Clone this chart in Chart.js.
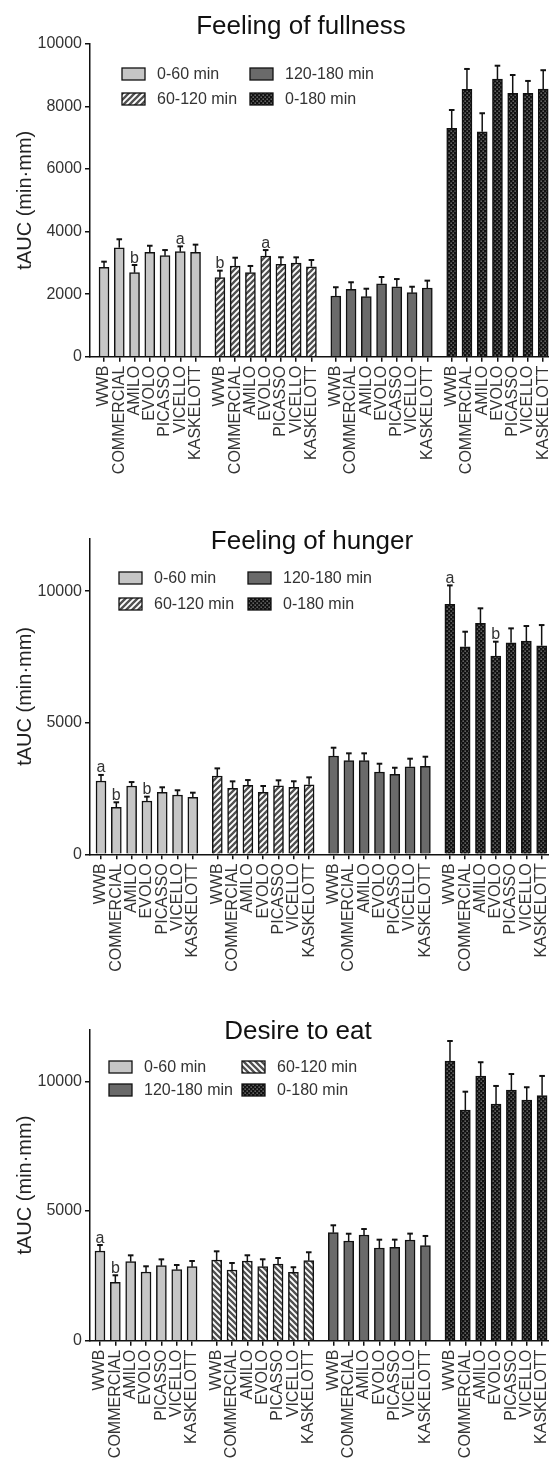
<!DOCTYPE html>
<html>
<head>
<meta charset="utf-8">
<script src="https://cdn.jsdelivr.net/npm/chart.js@4.4.1/dist/chart.umd.min.js"></script>
<style>
body { margin: 0; background: #fff; }
#wrap { position: relative; width: 549px; height: 1469px; }
canvas { position: absolute; left: 0; }
</style>
</head>
<body>
<div id="wrap">
  <canvas id="fullness" width="549" height="490" style="top:0"></canvas>
  <canvas id="hunger" width="549" height="490" style="top:490px"></canvas>
  <canvas id="desire" width="549" height="489" style="top:980px"></canvas>
</div>
<script>
const products = ['WWB', 'COMMERCIAL', 'AMILO', 'EVOLO', 'PICASSO', 'VICELLO', 'KASKELOTT'];
const periods = ['0-60 min', '60-120 min', '120-180 min', '0-180 min'];
const fullnessTicks = [0, 2000, 4000, 6000, 8000, 10000];
const hungerTicks = [0, 5000, 10000];
const desireTicks = [0, 5000, 10000];

// Feeling of fullness
const full_0_60 = [2856, 3482, 2684, 3335, 3227, 3355, 3335];
const full_0_60_sem = [180, 270, 245, 210, 180, 170, 245];
const full_0_60_sig = ['', '', 'b', '', '', 'a', ''];
const full_60_120 = [2524, 2898, 2684, 3217, 2952, 2994, 2875];
const full_60_120_sem = [225, 265, 215, 190, 225, 180, 215];
const full_60_120_sig = ['b', '', '', 'a', '', '', ''];
const full_120_180 = [1939, 2153, 1917, 2332, 2236, 2045, 2195];
const full_120_180_sem = [280, 225, 255, 215, 245, 190, 235];
const full_0_180 = [7297, 8543, 7188, 8872, 8415, 8415, 8553];
const full_0_180_sem = [585, 650, 590, 425, 585, 395, 600];

// Feeling of hunger
const hung_0_60 = [2785, 1786, 2595, 2025, 2356, 2253, 2166];
const hung_0_60_sem = [230, 190, 150, 165, 190, 180, 175];
const hung_0_60_sig = ['a', 'b', '', 'b', '', '', ''];
const hung_60_120 = [2975, 2507, 2621, 2356, 2606, 2545, 2644];
const hung_60_120_sem = [290, 265, 200, 240, 205, 230, 280];
const hung_120_180 = [3735, 3557, 3557, 3127, 3039, 3328, 3343];
const hung_120_180_sem = [315, 280, 280, 315, 250, 305, 365];
const hung_0_180 = [9498, 7888, 8777, 7534, 8040, 8104, 7926];
const hung_0_180_sem = [720, 570, 570, 545, 545, 570, 785];
const hung_0_180_sig = ['a', '', '', 'b', '', '', ''];

// Desire to eat
const des_0_60 = [3459, 2252, 3047, 2649, 2892, 2738, 2854];
const des_0_60_sem = [230, 270, 245, 220, 245, 180, 220];
const des_0_60_sig = ['a', 'b', '', '', '', '', ''];
const des_60_120 = [3112, 2727, 3074, 2854, 2958, 2638, 3085];
const des_60_120_sem = [335, 270, 220, 285, 230, 195, 325];
const des_120_180 = [4165, 3845, 4076, 3575, 3602, 3884, 3664];
const des_120_180_sem = [285, 280, 230, 320, 295, 245, 375];
const des_0_180 = [10787, 8897, 10208, 9128, 9668, 9283, 9449];
const des_0_180_sem = [770, 705, 530, 695, 615, 490, 760];

const FONT = '"Liberation Sans", Arial, Helvetica, sans-serif';
const groupStep = 7.6; // 7 bars + gap

// fill patterns
function stripes(back) {
  const s = 6;
  const c = document.createElement('canvas');
  c.width = c.height = s;
  const g = c.getContext('2d');
  g.fillStyle = '#fff';
  g.fillRect(0, 0, s, s);
  g.strokeStyle = '#505050';
  g.lineWidth = 2.3;
  g.beginPath();
  if (back) { // "\"
    g.moveTo(0, 0); g.lineTo(s, s);
    g.moveTo(-s / 2, s / 2); g.lineTo(s / 2, s * 1.5);
    g.moveTo(s / 2, -s / 2); g.lineTo(s * 1.5, s / 2);
  } else { // "/"
    g.moveTo(0, s); g.lineTo(s, 0);
    g.moveTo(-s / 2, s / 2); g.lineTo(s / 2, -s / 2);
    g.moveTo(s / 2, s * 1.5); g.lineTo(s * 1.5, s / 2);
  }
  g.stroke();
  return g.createPattern(c, 'repeat');
}

function dots() {
  const c = document.createElement('canvas');
  c.width = c.height = 4;
  const g = c.getContext('2d');
  g.fillStyle = '#111';
  g.fillRect(0, 0, 4, 4);
  g.fillStyle = '#8c8c8c';
  g.fillRect(0.5, 0.5, 1.3, 1.3);
  g.fillRect(2.5, 2.5, 1.3, 1.3);
  return g.createPattern(c, 'repeat');
}

const annotate = {
  id: 'annotate',
  afterDatasetsDraw(chart) {
    const ctx = chart.ctx;
    const y = chart.scales.y;
    ctx.save();
    chart.data.datasets.forEach((ds, k) => {
      chart.getDatasetMeta(k).data.forEach((bar, i) => {
        const top = y.getPixelForValue(ds.data[i].y + ds.sem[i]);
        ctx.strokeStyle = '#111';
        ctx.lineWidth = 1.5;
        ctx.beginPath();
        ctx.moveTo(bar.x, bar.y);
        ctx.lineTo(bar.x, top);
        ctx.stroke();
        ctx.lineWidth = 2;
        ctx.beginPath();
        ctx.moveTo(bar.x - 2.8, top);
        ctx.lineTo(bar.x + 2.8, top);
        ctx.stroke();
        if (ds.sig && ds.sig[i]) {
          ctx.fillStyle = '#333';
          ctx.font = '16px ' + FONT;
          ctx.textAlign = 'center';
          ctx.textBaseline = 'alphabetic';
          ctx.fillText(ds.sig[i], bar.x, top - 2.5);
        }
      });
    });
    ctx.restore();
  },
  afterDraw(chart, args, o) {
    const ctx = chart.ctx;
    ctx.save();
    // title
    ctx.fillStyle = '#111';
    ctx.font = '26px ' + FONT;
    ctx.textAlign = 'center';
    ctx.textBaseline = 'alphabetic';
    ctx.fillText(o.title, o.titleX, o.titleY);
    // legend, 2 x 2
    ctx.font = '16px ' + FONT;
    ctx.textAlign = 'left';
    ctx.textBaseline = 'middle';
    o.rows.forEach((row, r) => {
      row.forEach((idx, c) => {
        const ds = chart.data.datasets[idx];
        const bx = o.legX[c], by = o.legY[r];
        ctx.fillStyle = ds.backgroundColor;
        ctx.fillRect(bx, by - 6, 23, 12);
        ctx.strokeStyle = '#111';
        ctx.lineWidth = 1.3;
        ctx.strokeRect(bx, by - 6, 23, 12);
        ctx.fillStyle = '#333';
        ctx.fillText(ds.label, bx + 35, by + 1);
      });
    });
    ctx.restore();
  }
};

function makePanel(id, p) {
  const ctx = document.getElementById(id).getContext('2d');
  const fills = ['#c6c6c6', stripes(p.backStripes), '#6a6a6a', dots()];
  const tickPos = [];
  for (let k = 0; k < 4; k++) for (let i = 0; i < products.length; i++) tickPos.push(k * groupStep + i);

  const datasets = p.series.map((s, k) => ({
    label: periods[k],
    data: s.mean.map((v, i) => ({ x: k * groupStep + i, y: v })),
    sem: s.sem,
    sig: s.sig,
    backgroundColor: fills[k],
    borderColor: '#111',
    borderWidth: 1.5,
    barThickness: 10,
    grouped: false
  }));

  return new Chart(ctx, {
    type: 'bar',
    data: { datasets: datasets },
    plugins: [annotate],
    options: {
      responsive: false,
      animation: false,
      layout: { padding: { top: p.top, left: 0, right: 0, bottom: 0 } },
      plugins: {
        legend: { display: false },
        tooltip: { enabled: false },
        annotate: p.annot
      },
      scales: {
        x: {
          type: 'linear',
          min: p.xMin,
          max: p.xMax,
          offset: false,
          afterBuildTicks: s => { s.ticks = tickPos.map(v => ({ value: v })); },
          afterFit: s => { s.height = p.xAxisH; s.paddingLeft = 0; s.paddingRight = 0; },
          ticks: {
            autoSkip: false,
            minRotation: 90,
            maxRotation: 90,
            padding: 4,
            color: '#333',
            font: { family: FONT, size: 16 },
            callback: (v, i) => products[i % products.length]
          },
          grid: { drawOnChartArea: false, offset: false, tickLength: 5, color: '#111', lineWidth: 1.5 },
          border: { color: '#111', width: 1.5 }
        },
        y: {
          min: 0,
          max: p.yMax,
          ticks: {
            padding: 3,
            color: '#333',
            font: { family: FONT, size: 16 },
            callback: v => String(v)
          },
          afterBuildTicks: s => { s.ticks = p.yTicks.map(v => ({ value: v })); },
          afterFit: s => { s.width = 90; },
          title: {
            display: true,
            text: 'tAUC (min·mm)',
            color: '#222',
            font: { family: FONT, size: 20 },
            padding: { top: 13, bottom: 0 }
          },
          grid: { drawOnChartArea: false, tickLength: 5, color: '#111', lineWidth: 1.5 },
          border: { color: '#111', width: 1.5 }
        }
      }
    }
  });
}

makePanel('fullness', {
  top: 43.7, xAxisH: 133.3, xMin: -0.92, xMax: 29.18, yMax: 10000, yTicks: fullnessTicks,
  backStripes: false,
  series: [
    { mean: full_0_60, sem: full_0_60_sem, sig: full_0_60_sig },
    { mean: full_60_120, sem: full_60_120_sem, sig: full_60_120_sig },
    { mean: full_120_180, sem: full_120_180_sem },
    { mean: full_0_180, sem: full_0_180_sem }
  ],
  annot: { title: 'Feeling of fullness', titleX: 301, titleY: 34,
           legX: [122, 250], legY: [74, 99], rows: [[0, 2], [1, 3]] }
});

makePanel('hunger', {
  top: 48.5, xAxisH: 125.7, xMin: -0.72, xMax: 29.28, yMax: 12000, yTicks: hungerTicks,
  backStripes: false,
  series: [
    { mean: hung_0_60, sem: hung_0_60_sem, sig: hung_0_60_sig },
    { mean: hung_60_120, sem: hung_60_120_sem },
    { mean: hung_120_180, sem: hung_120_180_sem },
    { mean: hung_0_180, sem: hung_0_180_sem, sig: hung_0_180_sig }
  ],
  annot: { title: 'Feeling of hunger', titleX: 312, titleY: 59,
           legX: [119, 248], legY: [88, 114], rows: [[0, 2], [1, 3]] }
});

makePanel('desire', {
  top: 49.5, xAxisH: 128.3, xMin: -0.65, xMax: 29.25, yMax: 12000, yTicks: desireTicks,
  backStripes: true,
  series: [
    { mean: des_0_60, sem: des_0_60_sem, sig: des_0_60_sig },
    { mean: des_60_120, sem: des_60_120_sem },
    { mean: des_120_180, sem: des_120_180_sem },
    { mean: des_0_180, sem: des_0_180_sem }
  ],
  annot: { title: 'Desire to eat', titleX: 298, titleY: 59,
           legX: [109, 242], legY: [87, 110], rows: [[0, 1], [2, 3]] }
});
</script>
</body>
</html>
